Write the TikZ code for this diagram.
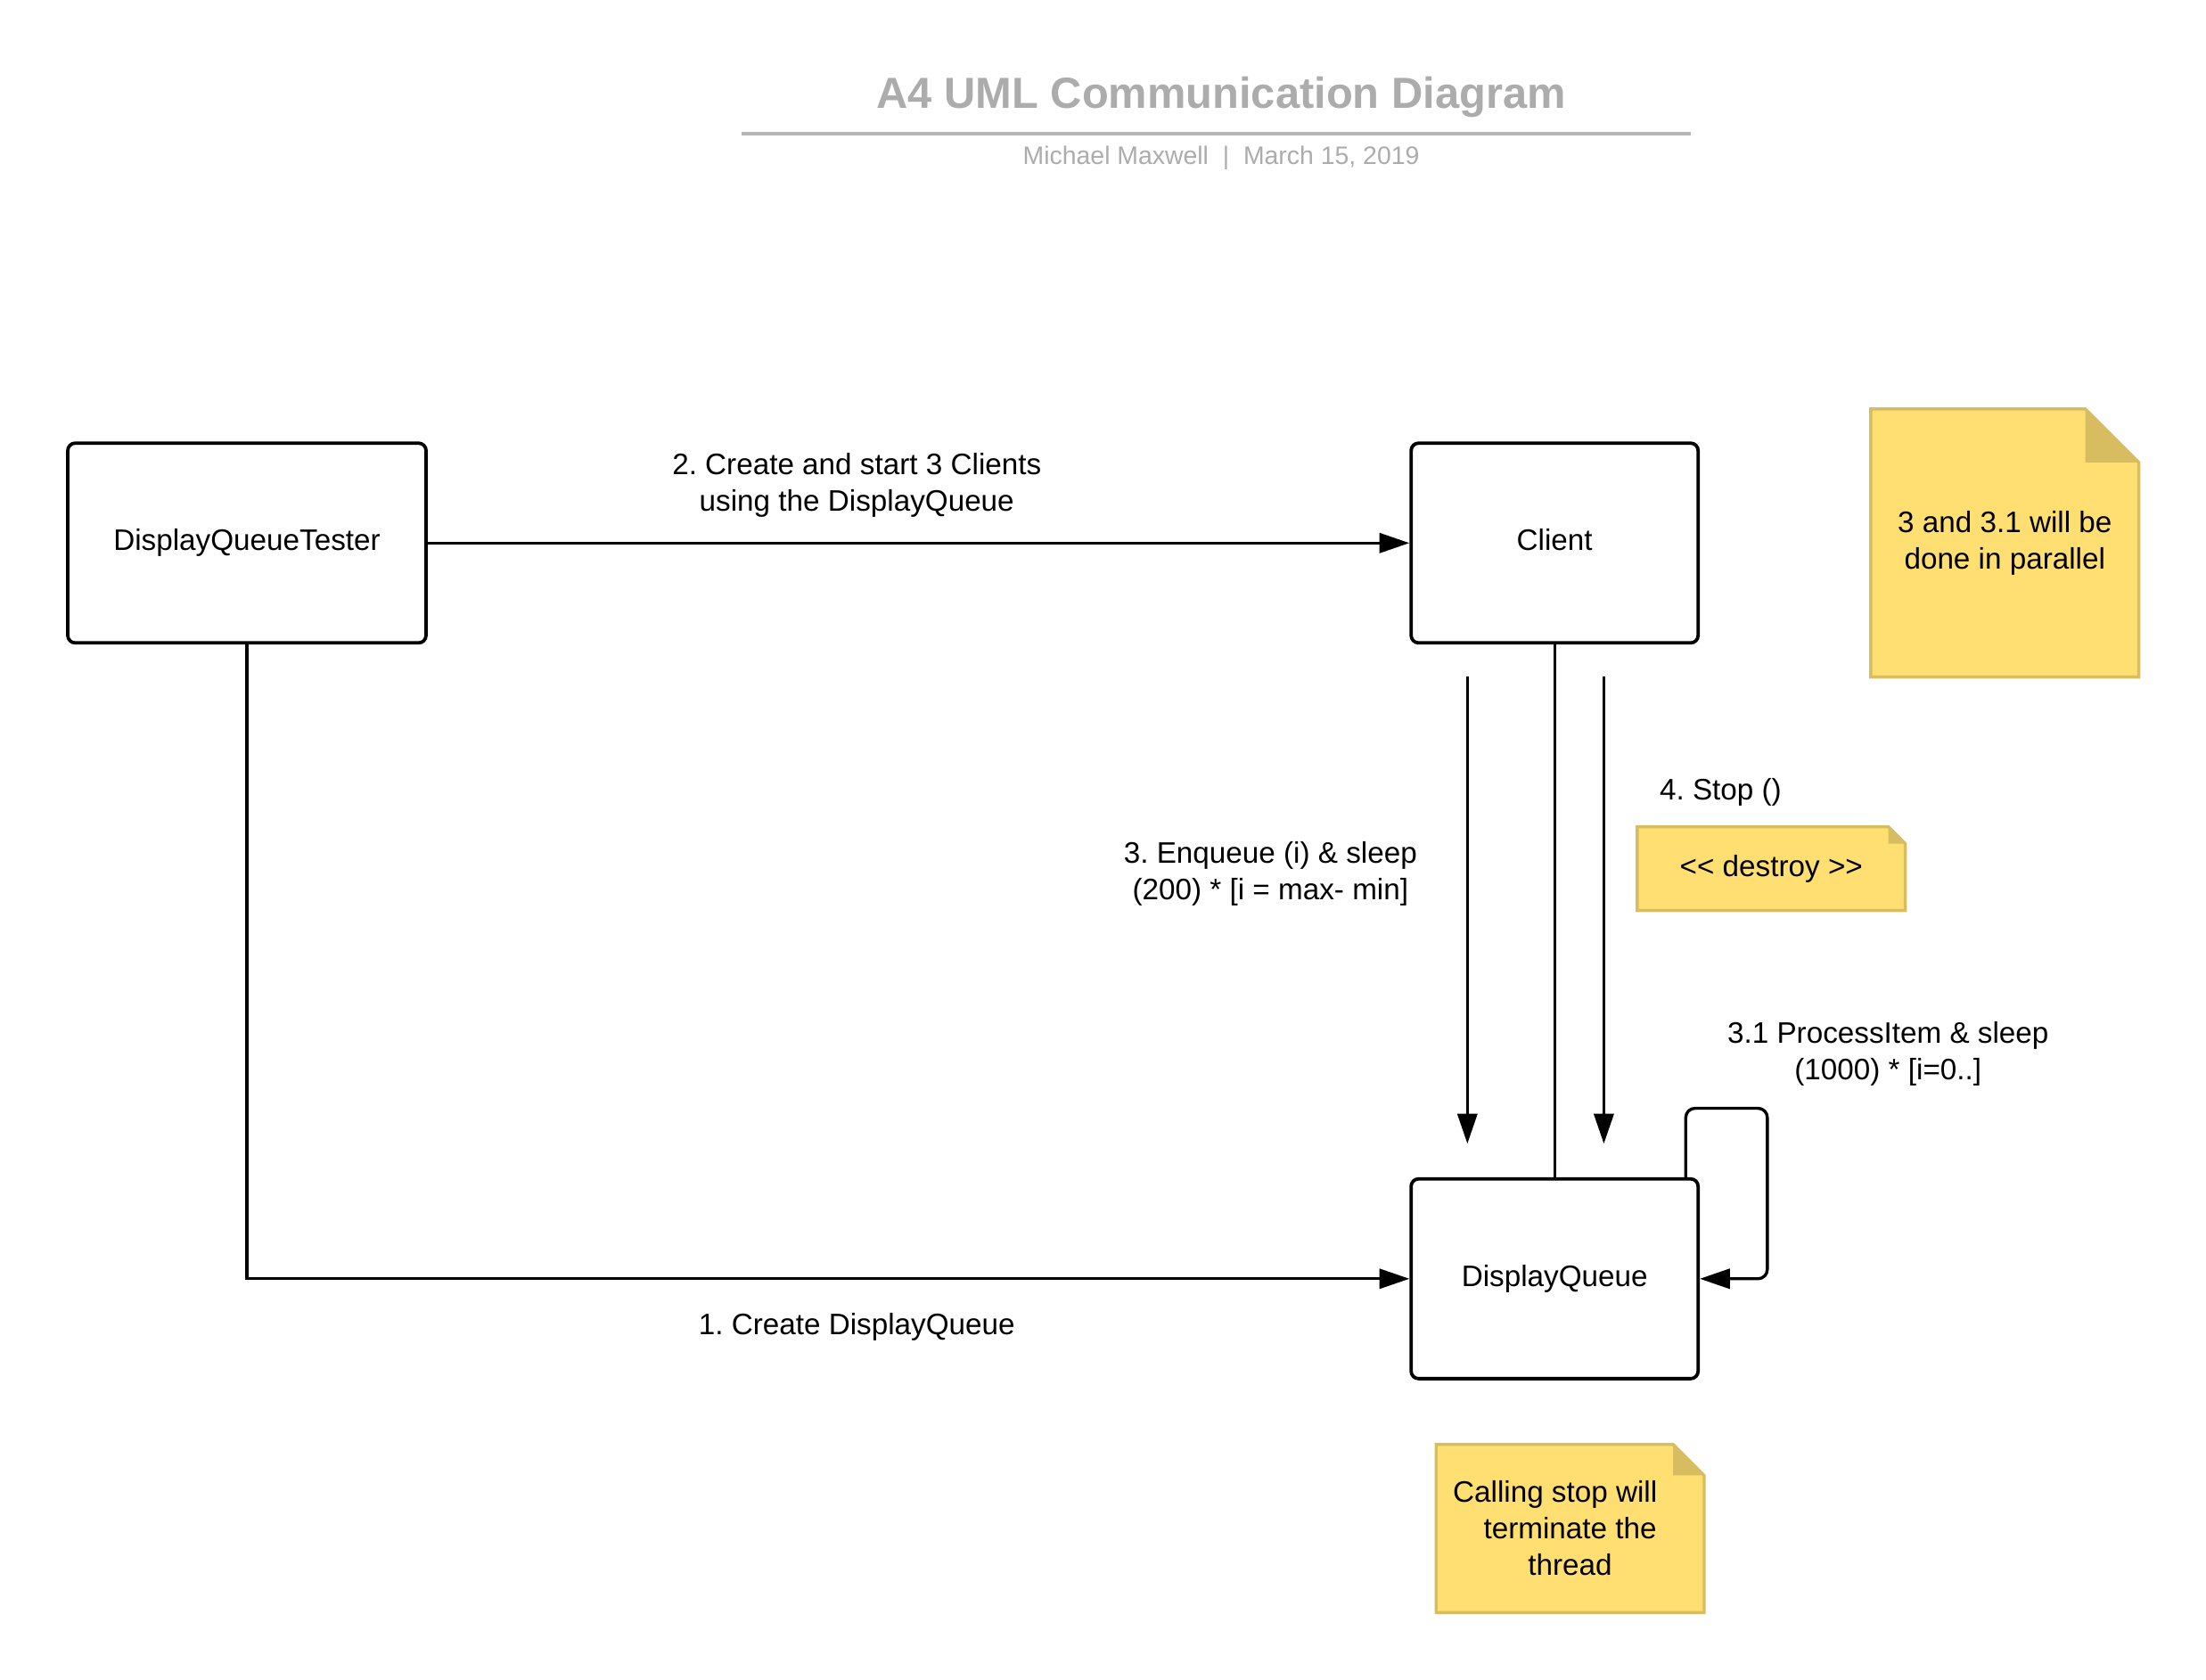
\documentclass[tikz,border=0pt]{standalone}
\usepackage{fontspec}
\setmainfont{Liberation Sans}
\usepackage{tikz}
\usepackage{xcolor}
\usetikzlibrary{arrows.meta, positioning, calc, backgrounds}
\definecolor{titlegray}{RGB}{172,172,172}
\definecolor{rulegray}{RGB}{182,182,182}
\definecolor{notefill}{RGB}{255,223,113}
\definecolor{noteedge}{RGB}{215,189,95}
\frenchspacing

\begin{document}
\begin{tikzpicture}[
				x=0.75pt, y=-0.75pt,
				object/.style={rectangle, rounded corners=4pt, draw=black, line width=1.8pt, fill=white, minimum height=106.5pt, text height=11.5pt, text depth=3.5pt, text centered, font=\fontsize{15.8}{19.5}\selectfont},
				msg/.style={align=center, inner sep=0pt, font=\fontsize{15.8}{19.5}\selectfont},
				memo/.style={rectangle, align=center, inner sep=0pt, minimum width=142.5pt, font=\fontsize{15.8}{19.5}\selectfont},
				memobody/.style={fill=notefill, draw=noteedge, line width=1.6pt},
				arrow/.style={-{Triangle[length=16pt,width=10.5pt]}, line width=1.6pt},
				link/.style={line width=1.6pt}
			]
			\useasboundingbox (0,0) rectangle (1568,1194);

			% Title block
			\node (title) [font=\fontsize{23.2}{28}\selectfont\bfseries, text=titlegray] at (868,69) {A4 UML Communication Diagram};
			\draw [rulegray, line width=1.6pt] (527,95) -- (1202,95);
			\node (subtitle) [font=\fontsize{13.5}{16}\selectfont, text=titlegray] at (868,112) {Michael Maxwell \ | \ March 15, 2019};

			% Objects
			\node (tester) [object, minimum width=191pt] at (175.5,386) {DisplayQueueTester};
			\node (client) [object, minimum width=153pt] at (1105,386) {Client};
			\node (queue) [object, minimum width=153pt] at (1105,909) {DisplayQueue};

			% Notes
			\node (parallel) [memo, minimum height=142.5pt] at (1425,386) {3 and 3.1 will be\\done in parallel};
			\node (destroy) [memo, minimum height=44.25pt] at (1259,617.5) {<{}< destroy >{}>};
			\node (stopnote) [memo, minimum height=89.25pt] at (1116,1086.5) {\hspace*{-16pt}Calling stop will\\terminate the\\thread};

			\begin{scope}[on background layer]
				\foreach \n/\f in {parallel/38, destroy/12, stopnote/22} {
					\filldraw [memobody] (\n.north west) -- ($(\n.north east)+(-\f,0)$) -- ($(\n.north east)+(0,\f)$) -- (\n.south east) -- (\n.south west) -- cycle;
					\fill [noteedge] ($(\n.north east)+(-\f,0)$) -- ($(\n.north east)+(-\f,\f)$) -- ($(\n.north east)+(0,\f)$) -- cycle;
				}
			\end{scope}

			% Messages
			\coordinate (enqtop) at (1043,481);
			\coordinate (enqtip) at (1043,813);
			\coordinate (stoptop) at (1140,481);
			\coordinate (stoptip) at (1140,813);

			\draw [arrow] (tester.south) -- (tester.south |- queue.west) -- (queue.west);
			\draw [arrow] (tester.east) -- (client.west);
			\draw [link] (client.south) -- (queue.north);
			\draw [arrow] (enqtop) -- (enqtip);
			\draw [arrow] (stoptop) -- (stoptip);
			\draw [arrow, rounded corners=5pt] ($(queue.north east)+(-10,0)$) -- ++(0,-49) -- ++(58,0) |- (queue.east);

			% Message labels
			\node (msg1) [msg] at (609,943) {1. Create DisplayQueue};
			\node (msg2) [msg] at (609,345) {2. Create and start 3 Clients\\using the DisplayQueue};
			\node (msg3) [msg] at (903,621) {3. Enqueue (i) \& sleep\\(200) * [i = max- min]};
			\node (msg31) [msg] at (1342,749) {3.1 ProcessItem \& sleep\\(1000) * [i=0..]};
			\node (msg4) [msg] at (1223,563) {4. Stop ()};

		\end{tikzpicture}
\end{document}
